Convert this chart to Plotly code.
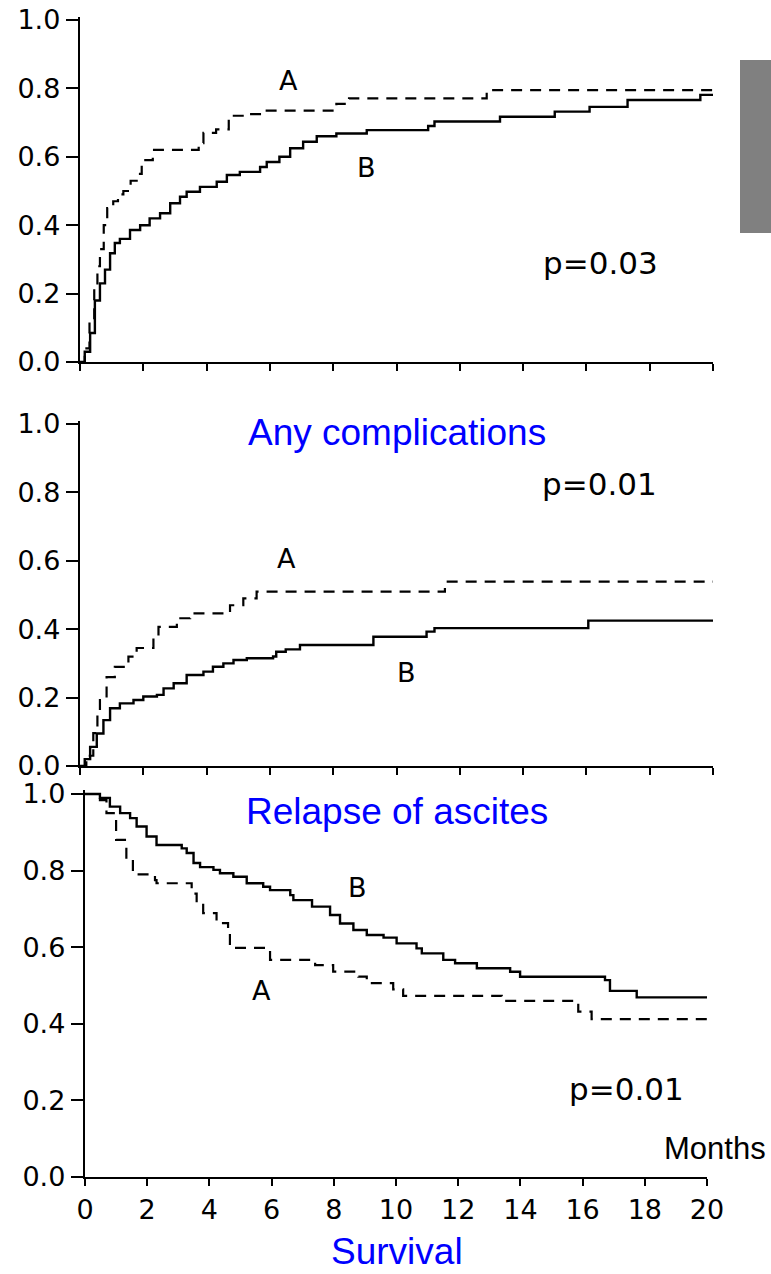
import plotly.graph_objects as go

# ---------------- data ----------------
months_ticks = [0, 2, 4, 6, 8, 10, 12, 14, 16, 18, 20]
y_ticks = [0.0, 0.2, 0.4, 0.6, 0.8, 1.0]
y_tick_text = ["0.0", "0.2", "0.4", "0.6", "0.8", "1.0"]

# Panel 1 (top)
top_A_t = [0, 0.15, 0.3, 0.45, 0.55, 0.63, 0.75, 0.86, 1.05, 1.2, 1.37, 1.6, 1.79, 1.95, 2.3,
           3.75, 3.9, 4.3, 4.7, 5.3, 5.85, 8.1, 8.5, 12.85, 20]
top_A_v = [0, 0.04, 0.12, 0.22, 0.28, 0.33, 0.40, 0.45, 0.47, 0.49, 0.50, 0.53, 0.55, 0.59, 0.62,
           0.64, 0.67, 0.68, 0.72, 0.725, 0.735, 0.755, 0.771, 0.795, 0.795]
top_B_t = [0, 0.15, 0.32, 0.47, 0.63, 0.79, 0.95, 1.1, 1.26, 1.58, 1.9, 2.2, 2.53, 2.85, 3.16,
           3.37, 3.79, 4.32, 4.64, 5.05, 5.69, 5.9, 6.3, 6.64, 7.05, 7.48, 8.1, 9.06, 11.0, 11.2,
           13.27, 15.0, 16.1, 17.3, 19.6, 20]
top_B_v = [0, 0.03, 0.085, 0.18, 0.23, 0.27, 0.318, 0.348, 0.36, 0.386, 0.40, 0.42, 0.435, 0.464,
           0.483, 0.498, 0.512, 0.527, 0.547, 0.556, 0.57, 0.585, 0.60, 0.625, 0.644, 0.66, 0.668,
           0.678, 0.69, 0.703, 0.717, 0.732, 0.746, 0.766, 0.781, 0.781]

# Panel 2 (middle)
mid_A_t = [0, 0.2, 0.42, 0.55, 0.63, 0.84, 1.1, 1.53, 1.79, 2.32, 2.48, 3.06, 3.48, 4.74, 5.16,
           5.58, 11.53, 20]
mid_A_v = [0, 0.03, 0.096, 0.15, 0.193, 0.26, 0.29, 0.32, 0.345, 0.378, 0.407, 0.432, 0.446, 0.47,
           0.49, 0.51, 0.539, 0.539]
mid_B_t = [0, 0.15, 0.32, 0.53, 0.74, 0.95, 1.26, 1.69, 2.0, 2.43, 2.64, 2.96, 3.37, 3.9, 4.2,
           4.53, 4.85, 5.27, 6.1, 6.2, 6.5, 6.95, 9.27, 10.95, 11.2, 16.06, 20]
mid_B_v = [0, 0.02, 0.056, 0.095, 0.134, 0.169, 0.183, 0.193, 0.203, 0.208, 0.227, 0.242, 0.266,
           0.276, 0.29, 0.30, 0.31, 0.315, 0.32, 0.334, 0.341, 0.354, 0.378, 0.393, 0.403, 0.425,
           0.425]

# Panel 3 (bottom, survival)
bot_A_t = [0, 0.3, 0.48, 0.69, 1.0, 1.33, 1.54, 2.25, 2.3, 3.43, 3.59, 3.8, 4.23, 4.6, 4.66, 5.95,
           7.4, 7.98, 8.79, 9.06, 9.91, 10.23, 13.4, 15.86, 16.29, 20]
bot_A_v = [1.0, 1.0, 0.984, 0.95, 0.88, 0.828, 0.79, 0.775, 0.767, 0.74, 0.715, 0.689, 0.663,
           0.637, 0.598, 0.567, 0.553, 0.536, 0.523, 0.506, 0.49, 0.473, 0.46, 0.432, 0.412, 0.412]
bot_B_t = [0, 0.32, 0.48, 0.8, 1.13, 1.45, 1.66, 1.98, 2.3, 3.11, 3.27, 3.49, 3.7, 4.13, 4.34,
           4.77, 5.2, 5.73, 5.95, 6.6, 6.7, 7.3, 7.88, 8.2, 8.63, 9.06, 9.6, 10.02, 10.66, 10.83,
           11.52, 11.9, 12.6, 13.67, 13.99, 16.72, 16.88, 17.74, 20]
bot_B_v = [1.0, 1.0, 0.99, 0.967, 0.95, 0.937, 0.915, 0.889, 0.867, 0.858, 0.846, 0.82, 0.809,
           0.802, 0.793, 0.784, 0.767, 0.758, 0.749, 0.736, 0.723, 0.706, 0.684, 0.662, 0.645,
           0.632, 0.625, 0.61, 0.597, 0.584, 0.567, 0.558, 0.545, 0.536, 0.523, 0.514, 0.486,
           0.469, 0.469]

panel_titles = ["Any complications", "Relapse of ascites", "Survival"]
p_values = ["p=0.03", "p=0.01", "p=0.01"]

# ---------------- layout helpers ----------------
W, H = 771, 1274
YMAX = 1.01


def ydom(px0, px1):
    # px0: pixel of value 0, px1: pixel of value 1
    per = (px0 - px1)
    top = px0 - per * YMAX
    return [1 - px0 / H, 1 - top / H]


def xdom(px0, px20):
    return [px0 / W, px20 / W]


panels = [
    dict(x=xdom(80, 713), y=ydom(362, 20), labels=False),
    dict(x=xdom(80, 713), y=ydom(766, 424), labels=False),
    dict(x=xdom(85, 707), y=ydom(1177, 794), labels=True),
]

fig = go.Figure()
series = [
    (top_A_t, top_A_v, top_B_t, top_B_v),
    (mid_A_t, mid_A_v, mid_B_t, mid_B_v),
    (bot_A_t, bot_A_v, bot_B_t, bot_B_v),
]
tick_font = dict(family="DejaVu Sans", size=27, color="black")

for i, (at, av, bt, bv) in enumerate(series):
    sfx = "" if i == 0 else str(i + 1)
    fig.add_trace(go.Scatter(x=at, y=av, mode="lines", line_shape="hv",
                             line=dict(color="black", width=2.2, dash="11px,8px"),
                             xaxis="x" + sfx, yaxis="y" + sfx, showlegend=False,
                             hoverinfo="skip"))
    fig.add_trace(go.Scatter(x=bt, y=bv, mode="lines", line_shape="hv",
                             line=dict(color="black", width=2.4),
                             xaxis="x" + sfx, yaxis="y" + sfx, showlegend=False,
                             hoverinfo="skip"))
    p = panels[i]
    fig.layout["xaxis" + sfx] = dict(
        domain=p["x"], range=[0, 20], anchor="y" + sfx, automargin=False,
        tickvals=months_ticks, showticklabels=p["labels"],
        ticks="outside", ticklen=7, tickwidth=2, tickcolor="black",
        showline=True, linecolor="black", linewidth=2.4, showgrid=False, zeroline=False,
        tickfont=tick_font, fixedrange=True,
    )
    fig.layout["yaxis" + sfx] = dict(
        domain=p["y"], range=[0, YMAX], anchor="x" + sfx, automargin=False,
        tickvals=y_ticks, ticktext=y_tick_text,
        ticks="outside", ticklen=12, tickwidth=2, tickcolor="black",
        showline=True, linecolor="black", linewidth=2.4, showgrid=False, zeroline=False,
        tickfont=tick_font, fixedrange=True,
    )

# curve labels (A / B) and p-values, in data coordinates
lab_font = dict(family="DejaVu Sans", size=27, color="black")
p_font = dict(family="DejaVu Sans", size=31, color="black")
curve_labels = [
    ("", "A", 6.6, 0.822), ("", "B", 9.04, 0.57),
    ("2", "A", 6.54, 0.608), ("2", "B", 10.3, 0.272),
    ("3", "B", 8.75, 0.757), ("3", "A", 5.66, 0.488),
]
for sfx, txt, xv, yv in curve_labels:
    fig.add_annotation(x=xv, y=yv, xref="x" + sfx, yref="y" + sfx, text=txt,
                       showarrow=False, font=lab_font)

p_pos = [("", 16.46, 0.29), ("2", 16.4, 0.825), ("3", 17.41, 0.23)]
for (sfx, xv, yv), txt in zip(p_pos, p_values):
    fig.add_annotation(x=xv, y=yv, xref="x" + sfx, yref="y" + sfx, text=txt,
                       showarrow=False, font=p_font)

# blue panel titles
blue_font = dict(family="Liberation Sans", size=37, color="#0000FF")
title_pos = [(397, 432), (397, 811)]
for txt, (px, py) in zip(panel_titles[:2], title_pos):
    fig.add_annotation(x=px / W, y=1 - py / H, xref="paper", yref="paper", text=txt,
                       showarrow=False, font=blue_font, xanchor="center", yanchor="middle")
fig.add_annotation(x=397 / W, y=0, xref="paper", yref="paper", text=panel_titles[2],
                   showarrow=False, font=blue_font, xanchor="center", yanchor="bottom")

fig.add_annotation(x=715 / W, y=1 - 1148 / H, xref="paper", yref="paper", text="Months",
                   showarrow=False, font=dict(family="Liberation Sans", size=31, color="black"),
                   xanchor="center", yanchor="middle")

# gray bar at right
fig.add_shape(type="rect", xref="paper", yref="paper",
              x0=740 / W, x1=1.0, y0=1 - 233 / H, y1=1 - 60 / H,
              fillcolor="#808080", line=dict(width=0), layer="above")

fig.update_layout(template="none", width=W, height=H, margin=dict(l=0, r=0, t=0, b=0, pad=0),
                  paper_bgcolor="white", plot_bgcolor="white", showlegend=False)

fig.write_html("out.html")
